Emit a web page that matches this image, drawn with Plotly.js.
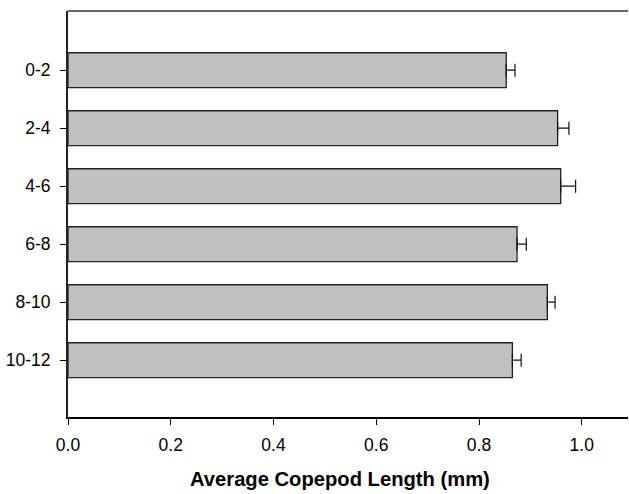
<!DOCTYPE html>
<html>
<head>
<meta charset="utf-8">
<script src="https://cdn.plot.ly/plotly-3.0.1.min.js"></script>
<style>html,body{margin:0;padding:0;background:#fff;}#chart{width:629px;height:494px;}</style>
</head>
<body>
<div id="chart"></div>
<script>
var depthBins = ["0-2", "2-4", "4-6", "6-8", "8-10", "10-12"];
var meanLength = [0.853, 0.953, 0.959, 0.874, 0.933, 0.865];
var stdError = [0.017, 0.022, 0.029, 0.018, 0.015, 0.017];
var xTickVals = [0.0, 0.2, 0.4, 0.6, 0.8, 1.0];
var xTickText = ["0.0", "0.2", "0.4", "0.6", "0.8", "1.0"];
var xTitle = "Average Copepod Length (mm)";

var trace = {
  type: "bar",
  orientation: "h",
  y: depthBins,
  x: meanLength,
  width: 0.6,
  marker: {color: "#c0c0c0", line: {color: "#222222", width: 1.3}},
  error_x: {type: "data", array: stdError, symmetric: false, arrayminus: stdError.map(function(){return 0;}), color: "#111111", thickness: 1.2, width: 6.5},
  hoverinfo: "none"
};

var layout = {
  width: 629, height: 494,
  margin: {l: 68, r: 1, t: 11, b: 77},
  paper_bgcolor: "#ffffff", plot_bgcolor: "#ffffff",
  showlegend: false,
  font: {family: "Liberation Sans, Arial, sans-serif", color: "#000000", size: 17.5},
  xaxis: {
    range: [0, 1.09],
    tickvals: xTickVals, ticktext: xTickText,
    ticks: "outside", ticklen: 6, tickcolor: "#000", tickwidth: 1,
    showgrid: false, zeroline: false,
    showline: true, linecolor: "#000", linewidth: 1.5,
    tickfont: {size: 17.5},
    ticklabelstandoff: 5
  },
  yaxis: {
    type: "category",
    categoryorder: "array", categoryarray: depthBins,
    range: [5.98, -1.02],
    ticks: "outside", ticklen: 6, tickcolor: "#000", tickwidth: 1,
    showgrid: false, zeroline: false,
    showline: true, linecolor: "#222", linewidth: 2,
    tickfont: {size: 17.5},
    ticklabelstandoff: 6
  },
  annotations: [{
    text: "<b>" + xTitle + "</b>", xref: "paper", yref: "paper",
    x: 0.4857, y: -0.153, xanchor: "center", yanchor: "middle",
    showarrow: false, font: {size: 20.2, color: "#000"}
  }],
  shapes: [{type: "line", xref: "paper", yref: "paper", x0: 0, x1: 1, y0: 1, y1: 1, line: {color: "#666666", width: 2}}]
};

Plotly.newPlot("chart", [trace], layout, {staticPlot: true, displayModeBar: false});
</script>
</body>
</html>
